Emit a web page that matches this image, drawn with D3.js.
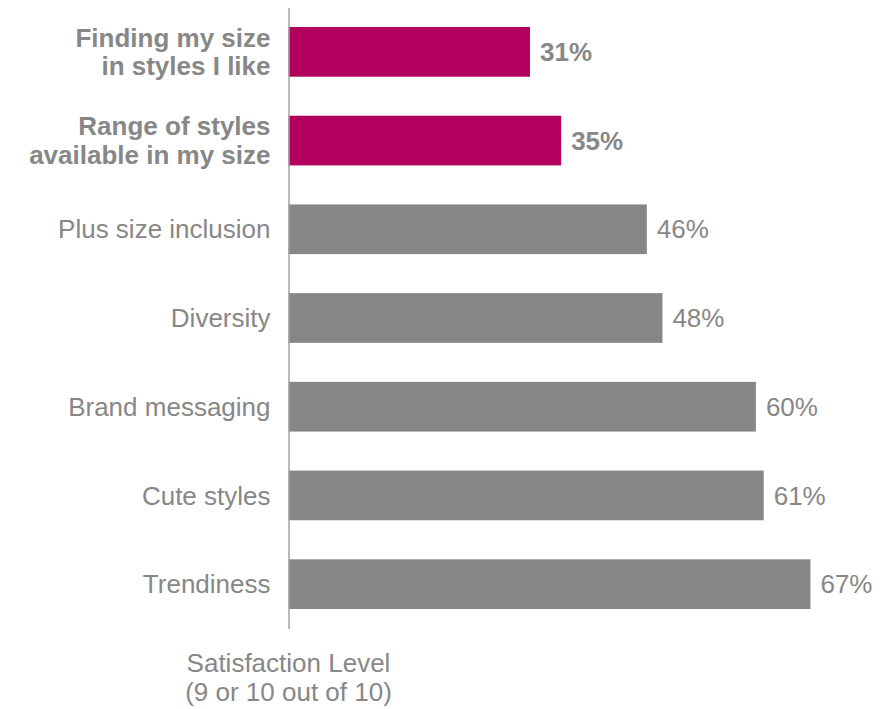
<!DOCTYPE html>
<html>
<head>
<meta charset="utf-8">
<script src="https://cdn.jsdelivr.net/npm/d3@7"></script>
<style>
  html, body { margin: 0; padding: 0; background: #ffffff; }
  svg { display: block; font-family: "Liberation Sans", Arial, sans-serif; }
</style>
</head>
<body>
<svg id="chart" width="895" height="709"></svg>
<script>
// Satisfaction by shopping attribute (share rating 9 or 10 out of 10)
const categories = [
  "Finding my size\nin styles I like",
  "Range of styles\navailable in my size",
  "Plus size inclusion",
  "Diversity",
  "Brand messaging",
  "Cute styles",
  "Trendiness"
];
const values = [31, 35, 46, 48, 60, 61, 67];
const highlighted = [true, true, false, false, false, false, false];
const axisTitle = ["Satisfaction Level", "(9 or 10 out of 10)"];

const colors = { highlight: "#b3005e", base: "#868686", text: "#878787", axis: "#a3a3a3" };
const fontSize = 26;

const svg = d3.select("#chart");

const x = d3.scaleLinear().domain([0, 100]).range([288.5, 1067.5]);
const y = d3.scaleBand()
  .domain(categories)
  .range([7.5, 628.5])
  .paddingInner(0.44)
  .paddingOuter(0.22);

const rows = categories.map((c, i) => ({ cat: c, value: values[i], hi: highlighted[i] }));

// Bars
svg.append("g")
  .selectAll("rect")
  .data(rows)
  .join("rect")
  .attr("x", x(0))
  .attr("y", d => y(d.cat))
  .attr("width", d => x(d.value) - x(0))
  .attr("height", y.bandwidth())
  .attr("fill", d => d.hi ? colors.highlight : colors.base);

// Value labels
svg.append("g")
  .selectAll("text")
  .data(rows)
  .join("text")
  .attr("x", d => x(d.value) + 10)
  .attr("y", d => y(d.cat) + y.bandwidth() / 2)
  .attr("dy", "0.35em")
  .attr("fill", colors.text)
  .attr("font-size", fontSize)
  .attr("font-weight", d => d.hi ? "bold" : "normal")
  .text(d => d.value + "%");

// Category axis
const yAxis = svg.append("g")
  .attr("transform", `translate(${x(0)},0)`)
  .call(d3.axisLeft(y).tickSize(0).tickSizeOuter(0).tickPadding(18));

yAxis.select(".domain")
  .attr("stroke", colors.axis)
  .attr("stroke-width", 1.5);

yAxis.selectAll(".tick text")
  .attr("fill", colors.text)
  .attr("font-size", fontSize)
  .attr("font-family", "'Liberation Sans', Arial, sans-serif")
  .attr("font-weight", (d, i) => highlighted[i] ? "bold" : "normal")
  .each(function(d) {
    const lines = d.split("\n");
    const t = d3.select(this).text(null).attr("dy", null);
    const lh = 28.5;
    lines.forEach((line, k) => {
      t.append("tspan")
        .attr("x", -18)
        .attr("dy", k === 0 ? (0.35 * fontSize - (lines.length - 1) * lh / 2) : lh)
        .text(line);
    });
  });

// Axis title below the chart, one text per line
svg.append("g")
  .selectAll("text")
  .data(axisTitle)
  .join("text")
  .attr("x", x(0))
  .attr("y", (d, k) => 672 + k * 29)
  .attr("text-anchor", "middle")
  .attr("fill", colors.text)
  .attr("font-size", fontSize)
  .text(d => d);
</script>
</body>
</html>
